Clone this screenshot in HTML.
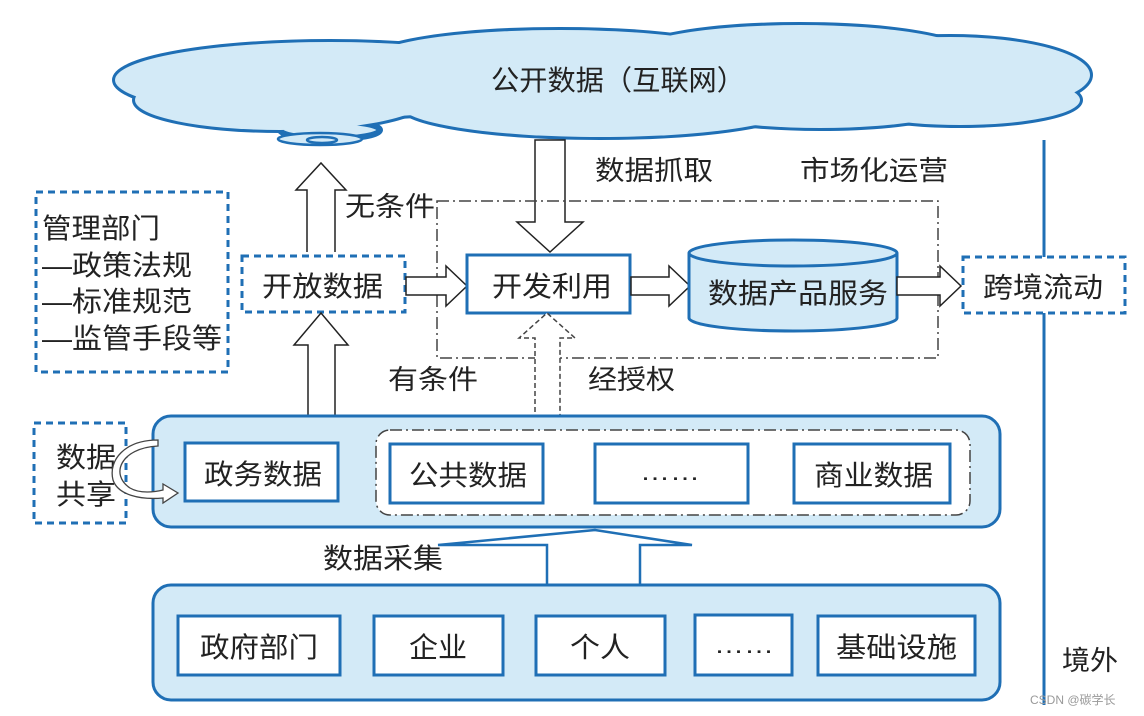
<!DOCTYPE html>
<html><head><meta charset="utf-8"><style>
html,body{margin:0;padding:0;background:#fff;}
svg{display:block;}
text{font-family:"Liberation Sans","Noto Sans CJK SC",sans-serif;fill:#222;}
</style></head><body>
<svg width="1144" height="716" viewBox="0 0 1144 716" xmlns="http://www.w3.org/2000/svg">
<g stroke="#1f6fb5" stroke-width="6" fill="#d3eaf7">
<ellipse cx="330" cy="80" rx="215" ry="38"/>
<ellipse cx="280" cy="100" rx="145" ry="30"/>
<ellipse cx="560" cy="60" rx="190" ry="30"/>
<ellipse cx="800" cy="55" rx="170" ry="30"/>
<ellipse cx="950" cy="75" rx="140" ry="38"/>
<ellipse cx="960" cy="100" rx="120" ry="25"/>
<ellipse cx="600" cy="105" rx="200" ry="32"/>
<ellipse cx="820" cy="100" rx="150" ry="28"/>
<ellipse cx="330" cy="130" rx="50" ry="9"/>
</g>
<g fill="#d3eaf7">
<ellipse cx="330" cy="80" rx="215" ry="38"/>
<ellipse cx="280" cy="100" rx="145" ry="30"/>
<ellipse cx="560" cy="60" rx="190" ry="30"/>
<ellipse cx="800" cy="55" rx="170" ry="30"/>
<ellipse cx="950" cy="75" rx="140" ry="38"/>
<ellipse cx="960" cy="100" rx="120" ry="25"/>
<ellipse cx="600" cy="105" rx="200" ry="32"/>
<ellipse cx="820" cy="100" rx="150" ry="28"/>
</g>
<g stroke="#1f6fb5" stroke-width="2.5" fill="#d3eaf7">
<ellipse cx="320" cy="139" rx="42" ry="6"/>
<ellipse cx="322" cy="140" rx="15" ry="3"/>
</g>
<text x="491" y="90" font-size="28" textLength="254" lengthAdjust="spacingAndGlyphs">公开数据（互联网）</text>

<line x1="1044" y1="140" x2="1044" y2="705" stroke="#1f6fb5" stroke-width="3"/>
<text x="1062" y="670" font-size="27" textLength="56" lengthAdjust="spacingAndGlyphs">境外</text>

<path d="M307 252 V190 H296 L321 163 L346 190 H335 V252" fill="#fff" stroke="#222" stroke-width="1.5"/>
<text x="345" y="216" font-size="27" textLength="90" lengthAdjust="spacingAndGlyphs">无条件</text>
<path d="M535 140 V222 H517 L550 252 L583 222 H565 V140 Z" fill="#fff" stroke="#222" stroke-width="1.5"/>
<text x="595" y="180" font-size="27" textLength="118" lengthAdjust="spacingAndGlyphs">数据抓取</text>
<text x="800" y="180" font-size="27" textLength="148" lengthAdjust="spacingAndGlyphs">市场化运营</text>

<rect x="437" y="201" width="501" height="157" fill="none" stroke="#444" stroke-width="1.5" stroke-dasharray="12,4,2,4"/>

<rect x="36" y="192" width="192" height="180" fill="none" stroke="#1f6fb5" stroke-width="3" stroke-dasharray="7,5"/>
<text x="42" y="238" font-size="28" textLength="118" lengthAdjust="spacingAndGlyphs">管理部门</text>
<text x="42" y="275" font-size="28" textLength="150" lengthAdjust="spacingAndGlyphs">—政策法规</text>
<text x="42" y="311" font-size="28" textLength="150" lengthAdjust="spacingAndGlyphs">—标准规范</text>
<text x="42" y="348" font-size="28" textLength="180" lengthAdjust="spacingAndGlyphs">—监管手段等</text>

<rect x="242" y="256" width="163" height="56" fill="#fff" stroke="#1f6fb5" stroke-width="3" stroke-dasharray="7,5"/>
<text x="262" y="296" font-size="28" textLength="121" lengthAdjust="spacingAndGlyphs">开放数据</text>
<path d="M406 277 H446 V266 L467 286 L446 306 V295 H406 Z" fill="#fff" stroke="#222" stroke-width="1.5"/>
<rect x="467" y="255" width="163" height="58" fill="#fff" stroke="#1f6fb5" stroke-width="3"/>
<text x="492" y="296" font-size="28" textLength="120" lengthAdjust="spacingAndGlyphs">开发利用</text>
<path d="M631 277 H669 V266 L690 286 L669 306 V295 H631 Z" fill="#fff" stroke="#222" stroke-width="1.5"/>
<path d="M689 253 V318 A104 13 0 0 0 897 318 V253" fill="#d3eaf7" stroke="#1f6fb5" stroke-width="3"/>
<ellipse cx="793" cy="253" rx="104" ry="13" fill="#d3eaf7" stroke="#1f6fb5" stroke-width="3"/>
<text x="708" y="303" font-size="28" textLength="180" lengthAdjust="spacingAndGlyphs">数据产品服务</text>
<path d="M897 277 H940 V266 L961 286 L940 306 V295 H897 Z" fill="#fff" stroke="#222" stroke-width="1.5"/>
<rect x="963" y="257" width="162" height="56" fill="#fff" stroke="#1f6fb5" stroke-width="3" stroke-dasharray="7,5"/>
<text x="983" y="297" font-size="28" textLength="120" lengthAdjust="spacingAndGlyphs">跨境流动</text>

<path d="M308 443 V345 H294 L321 313 L348 345 H335 V443" fill="#fff" stroke="#222" stroke-width="1.5"/>
<text x="388" y="389" font-size="27" textLength="90" lengthAdjust="spacingAndGlyphs">有条件</text>
<text x="588" y="389" font-size="27" textLength="87" lengthAdjust="spacingAndGlyphs">经授权</text>
<path d="M535 428 V338 H519 L547 313 L575 338 H560 V428 Z" fill="#fff" stroke="#444" stroke-width="1.5" stroke-dasharray="5,3"/>

<rect x="153" y="416" width="847" height="111" rx="18" fill="#d3eaf7" stroke="#1f6fb5" stroke-width="3"/>
<rect x="34" y="423" width="92" height="100" fill="#fff" stroke="#1f6fb5" stroke-width="3" stroke-dasharray="7,5"/>
<text x="56" y="467" font-size="28" textLength="60" lengthAdjust="spacingAndGlyphs">数据</text>
<text x="56" y="504" font-size="28" textLength="60" lengthAdjust="spacingAndGlyphs">共享</text>
<path d="M158 446 C120 448 110 475 130 488 C140 494 155 492 163 490 V484 L178 493 L163 503 V498 C140 500 118 495 113 480 C108 460 125 440 158 440 Z" fill="#fff" stroke="#444" stroke-width="1.3"/>
<rect x="185" y="443" width="153" height="58" fill="#fff" stroke="#1f6fb5" stroke-width="3"/>
<text x="204" y="484" font-size="28" textLength="118" lengthAdjust="spacingAndGlyphs">政务数据</text>
<rect x="376" y="430" width="594" height="85" rx="14" fill="#fff" stroke="#444" stroke-width="1.5" stroke-dasharray="12,4,2,4"/>
<rect x="390" y="444" width="153" height="59" fill="#fff" stroke="#1f6fb5" stroke-width="3"/>
<text x="409" y="485" font-size="28" textLength="118" lengthAdjust="spacingAndGlyphs">公共数据</text>
<rect x="595" y="444" width="153" height="59" fill="#fff" stroke="#1f6fb5" stroke-width="3"/>
<text x="640" y="480" font-size="24" textLength="60" lengthAdjust="spacingAndGlyphs">……</text>
<rect x="794" y="444" width="156" height="59" fill="#fff" stroke="#1f6fb5" stroke-width="3"/>
<text x="814" y="485" font-size="28" textLength="119" lengthAdjust="spacingAndGlyphs">商业数据</text>

<path d="M547 585 V545 H438 L595 530 L692 545 H640 V585" fill="#fff" stroke="#1f6fb5" stroke-width="2.5"/>
<text x="323" y="568" font-size="28" textLength="120" lengthAdjust="spacingAndGlyphs">数据采集</text>

<rect x="153" y="585" width="847" height="115" rx="18" fill="#d3eaf7" stroke="#1f6fb5" stroke-width="3"/>
<rect x="178" y="616" width="162" height="59" fill="#fff" stroke="#1f6fb5" stroke-width="3"/>
<text x="200" y="657" font-size="28" textLength="118" lengthAdjust="spacingAndGlyphs">政府部门</text>
<rect x="374" y="616" width="129" height="59" fill="#fff" stroke="#1f6fb5" stroke-width="3"/>
<text x="409" y="657" font-size="28" textLength="58" lengthAdjust="spacingAndGlyphs">企业</text>
<rect x="536" y="616" width="129" height="59" fill="#fff" stroke="#1f6fb5" stroke-width="3"/>
<text x="570" y="657" font-size="28" textLength="60" lengthAdjust="spacingAndGlyphs">个人</text>
<rect x="695" y="615" width="97" height="60" fill="#fff" stroke="#1f6fb5" stroke-width="3"/>
<text x="714" y="653" font-size="24" textLength="60" lengthAdjust="spacingAndGlyphs">……</text>
<rect x="818" y="616" width="157" height="59" fill="#fff" stroke="#1f6fb5" stroke-width="3"/>
<text x="836" y="657" font-size="28" textLength="121" lengthAdjust="spacingAndGlyphs">基础设施</text>

<text x="1030" y="704" font-size="12" style="fill:#999">CSDN @碳学长</text>
</svg>
</body></html>
